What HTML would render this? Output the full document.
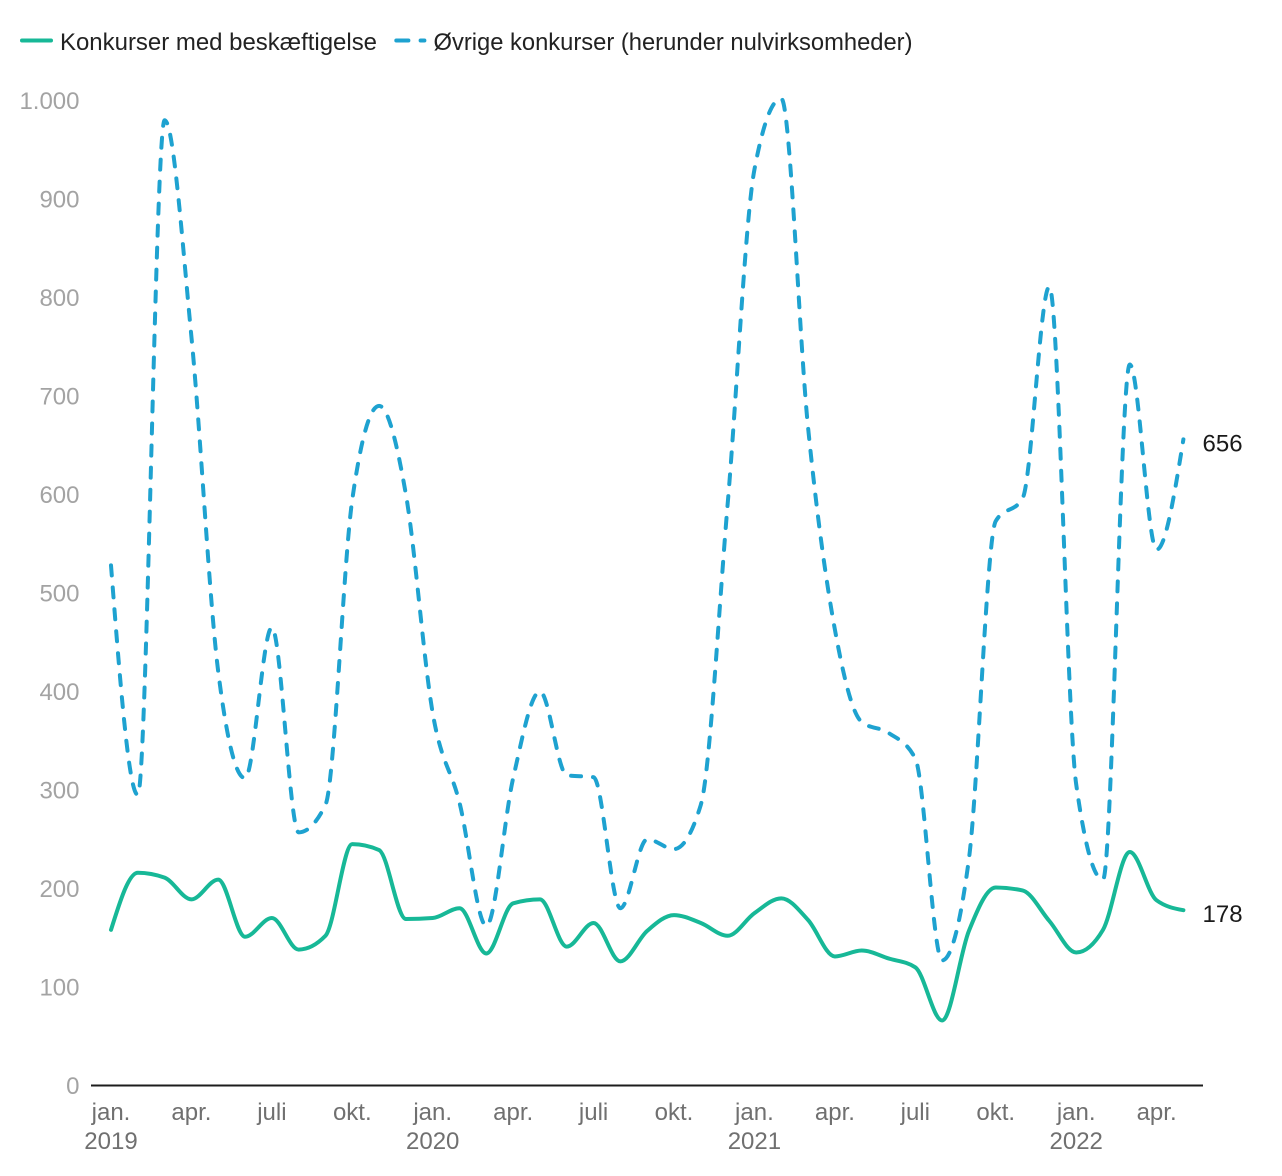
<!DOCTYPE html>
<html>
<head>
<meta charset="utf-8">
<style>
  html, body { margin: 0; padding: 0; background: #ffffff; }
  svg { display: block; }
  text { font-family: "Liberation Sans", "DejaVu Sans", sans-serif; }
</style>
</head>
<body>
<svg id="chart" width="1282" height="1176" viewBox="0 0 1282 1176" xmlns="http://www.w3.org/2000/svg">
  <rect x="0" y="0" width="1282" height="1176" fill="#ffffff"/>

  <!-- Legend -->
  <line x1="22" y1="40.5" x2="51" y2="40.5" stroke="#17b897" stroke-width="4" stroke-linecap="round"/>
  <text x="60" y="50" font-size="24" fill="#222222" textLength="317" lengthAdjust="spacingAndGlyphs">Konkurser med beskæftigelse</text>
  <line x1="396.3" y1="40.5" x2="408.4" y2="40.5" stroke="#1ea2d0" stroke-width="4" stroke-linecap="round"/>
  <line x1="420.6" y1="40.5" x2="424.4" y2="40.5" stroke="#1ea2d0" stroke-width="4" stroke-linecap="round"/>
  <text x="433.5" y="50" font-size="24" fill="#222222" textLength="479" lengthAdjust="spacingAndGlyphs">Øvrige konkurser (herunder nulvirksomheder)</text>

  <!-- Y axis labels -->
  <g font-size="24" fill="#a3a3a3" text-anchor="end">
    <text x="79.5" y="108.8">1.000</text>
    <text x="79.5" y="207.3">900</text>
    <text x="79.5" y="305.8">800</text>
    <text x="79.5" y="404.3">700</text>
    <text x="79.5" y="502.8">600</text>
    <text x="79.5" y="601.3">500</text>
    <text x="79.5" y="699.8">400</text>
    <text x="79.5" y="798.3">300</text>
    <text x="79.5" y="896.8">200</text>
    <text x="79.5" y="995.3">100</text>
    <text x="79.5" y="1093.8">0</text>
  </g>

  <!-- Series -->
  <path id="dashed" d="" fill="none" stroke="#1ea2d0" stroke-width="4" stroke-linecap="round" stroke-linejoin="round" stroke-dasharray="10 12"/>
  <path id="solid" d="" fill="none" stroke="#17b897" stroke-width="4" stroke-linecap="round" stroke-linejoin="round"/>

  <!-- X axis baseline -->
  <line x1="91" y1="1085.5" x2="1203" y2="1085.5" stroke="#1d1d1d" stroke-width="2"/>

  <!-- X labels -->
  <g font-size="24" fill="#707070" text-anchor="middle">
    <text x="111" y="1120">jan.</text>
    <text x="111" y="1149">2019</text>
    <text x="191.4" y="1120">apr.</text>
    <text x="271.9" y="1120">juli</text>
    <text x="352.3" y="1120">okt.</text>
    <text x="432.7" y="1120">jan.</text>
    <text x="432.7" y="1149">2020</text>
    <text x="513.2" y="1120">apr.</text>
    <text x="593.6" y="1120">juli</text>
    <text x="674" y="1120">okt.</text>
    <text x="754.4" y="1120">jan.</text>
    <text x="754.4" y="1149">2021</text>
    <text x="834.9" y="1120">apr.</text>
    <text x="915.3" y="1120">juli</text>
    <text x="995.7" y="1120">okt.</text>
    <text x="1076.2" y="1120">jan.</text>
    <text x="1076.2" y="1149">2022</text>
    <text x="1156.6" y="1120">apr.</text>
  </g>

  <!-- End value labels -->
  <text x="1202.5" y="451.5" font-size="24" fill="#1a1a1a">656</text>
  <text x="1202.5" y="922" font-size="24" fill="#1a1a1a">178</text>
</svg>

<script>
(function(){
  var solid = [158,216,211,189,209,151,170,138,152,245,239,169,
               170,180,134,185,189,141,165,126,157,173,165,152,
               175,190,168,131,137,129,120,66,157,201,198,167,
               135,158,237,188,178];
  var dashed = [528,295,980,760,420,312,465,257,285,595,690,600,
                378,287,162,312,400,315,313,180,250,240,285,590,
                930,1002,668,463,369,358,332,127,230,573,596,811,
                306,209,732,544,656];
  var X0 = 111, DX = 26.81;
  function yv(v){ return 1085.5 - 0.985 * v; }
  function sign(x){ return x < 0 ? -1 : 1; }
  function build(vals){
    var n = vals.length, xs = [], ys = [], i;
    for (i = 0; i < n; i++){ xs.push(X0 + DX * i); ys.push(yv(vals[i])); }
    var m = new Array(n);
    for (i = 1; i < n - 1; i++){
      var h0 = xs[i] - xs[i-1], h1 = xs[i+1] - xs[i];
      var s0 = (ys[i] - ys[i-1]) / h0, s1 = (ys[i+1] - ys[i]) / h1;
      var p = (s0 * h1 + s1 * h0) / (h0 + h1);
      m[i] = (sign(s0) + sign(s1)) * Math.min(Math.abs(s0), Math.abs(s1), 0.5 * Math.abs(p)) || 0;
    }
    m[0] = (3 * (ys[1] - ys[0]) / (xs[1] - xs[0]) - m[1]) / 2;
    m[n-1] = (3 * (ys[n-1] - ys[n-2]) / (xs[n-1] - xs[n-2]) - m[n-2]) / 2;
    var d = "M" + xs[0].toFixed(2) + "," + ys[0].toFixed(2);
    for (i = 0; i < n - 1; i++){
      var dx = (xs[i+1] - xs[i]) / 3;
      d += "C" + (xs[i] + dx).toFixed(2) + "," + (ys[i] + dx * m[i]).toFixed(2) + " " +
           (xs[i+1] - dx).toFixed(2) + "," + (ys[i+1] - dx * m[i+1]).toFixed(2) + " " +
           xs[i+1].toFixed(2) + "," + ys[i+1].toFixed(2);
    }
    return d;
  }
  document.getElementById("solid").setAttribute("d", build(solid));
  document.getElementById("dashed").setAttribute("d", build(dashed));
})();
</script>
</body>
</html>
